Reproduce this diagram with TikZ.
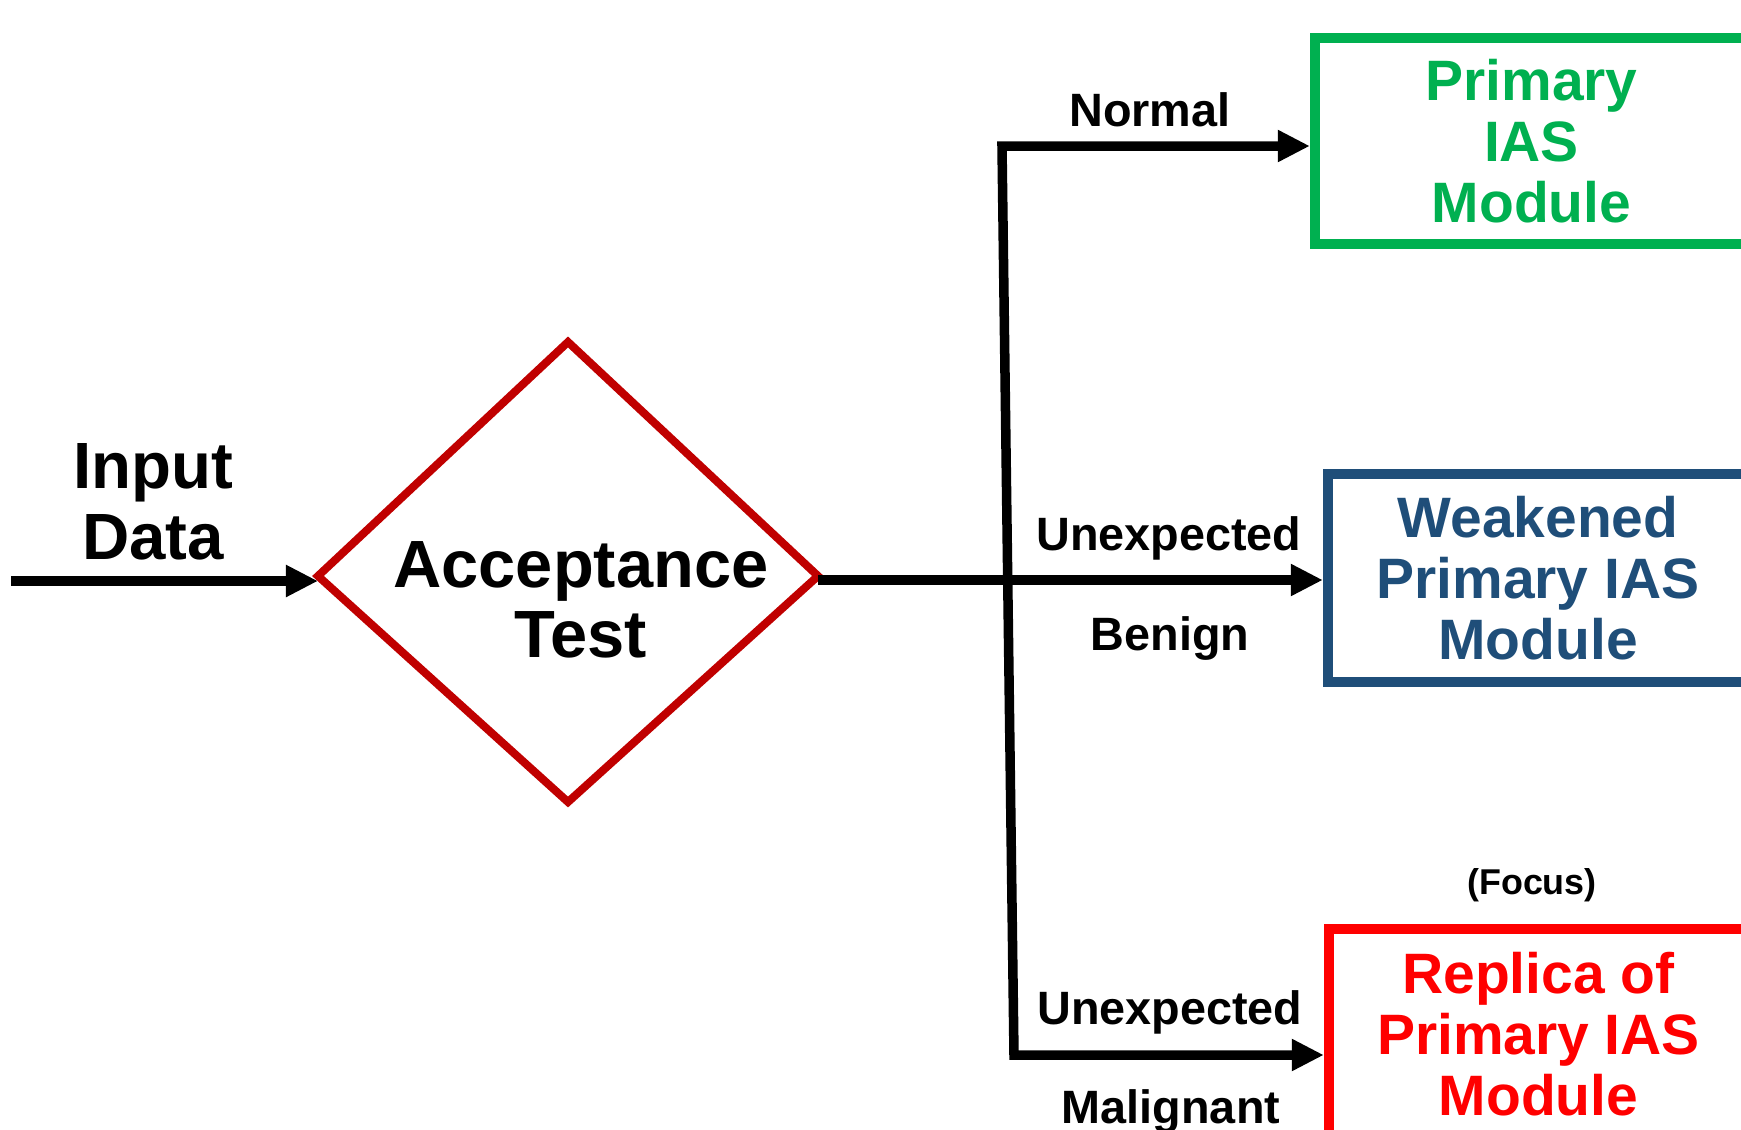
\documentclass[tikz,border=0pt]{standalone}
\usepackage{fontspec}
\setmainfont{Liberation Sans}
\usetikzlibrary{arrows.meta}
\definecolor{boxgreen}{RGB}{0,176,80}
\definecolor{boxblue}{RGB}{31,78,121}
\definecolor{boxred}{RGB}{255,0,0}
\definecolor{dred}{RGB}{192,0,0}
\begin{document}
\begin{tikzpicture}[x=0.01cm,y=-0.01cm,
  conn/.style={line width=0.095cm, draw=black, line join=miter},
  tip/.style={-{Triangle[length=0.32cm,width=0.30cm]}},
  tips/.style={{Triangle[length=0.32cm,width=0.30cm]}-{Triangle[length=0.32cm,width=0.30cm]}},
  modbox/.style={draw, line width=0.10cm, align=center, inner sep=0pt,
    font=\bfseries\fontsize{16.2}{17.4}\selectfont},
  lbl/.style={font=\bfseries\fontsize{13.3}{15}\selectfont, inner sep=0pt},
  big/.style={align=center, inner sep=0pt, font=\bfseries\fontsize{19}{19.8}\selectfont},
]
\useasboundingbox (0,0) rectangle (1741,1130);
\clip (0,0) rectangle (1741,1130);
% boxes
\node[modbox, boxgreen, minimum width=4.33cm, minimum height=2.06cm] (p1) at (1531.5,141) {Primary\\IAS\\Module};
\node[modbox, boxblue, minimum width=4.20cm, minimum height=2.07cm] (p2) at (1538,578) {Weakened\\Primary IAS\\Module};
\node[modbox, boxred, minimum width=4.19cm, minimum height=2.10cm] (p3) at (1538.5,1034) {Replica of\\Primary IAS\\Module};
\node[font=\bfseries\fontsize{10.2}{12}\selectfont, inner sep=0pt] (focus) at (1532,885) {(Focus)};
% diamond
\coordinate (dl) at (318,576);
\coordinate (dt) at (568,342);
\coordinate (dr) at (818,576);
\coordinate (db) at (568,802);
\draw[dred, line width=0.08cm, line join=miter] (dl) -- (dt) -- (dr) -- (db) -- cycle;
\node[big] (test) at (581,600) {Acceptance\\Test};
\node[big, font=\bfseries\fontsize{18.6}{20.2}\selectfont] (input) at (153,502) {Input\\Data};
% connectors
\coordinate (in) at (11,581);
\coordinate (jtop) at (1002,146);
\coordinate (jbot) at (1014,1055);
\draw[conn, tip] (in) -- (in -| dl);
\draw[conn, tip] (dr |- 0,580) -- (p2.west |- 0,580);
\draw[conn, tips] (jtop -| p1.west) -- (jtop) -- (jbot) -- (jbot -| p3.west);
% labels
\node[lbl] (normal) at (1150,110) {Normal};
\node[lbl] (unexp1) at (1169,538) {Unexpected};
\node[lbl] (benign) at (1170,639) {Benign};
\node[lbl] (unexp2) at (1170,1012) {Unexpected};
\node[lbl] (malig) at (1171,1112) {Malignant};
\end{tikzpicture}
\end{document}
